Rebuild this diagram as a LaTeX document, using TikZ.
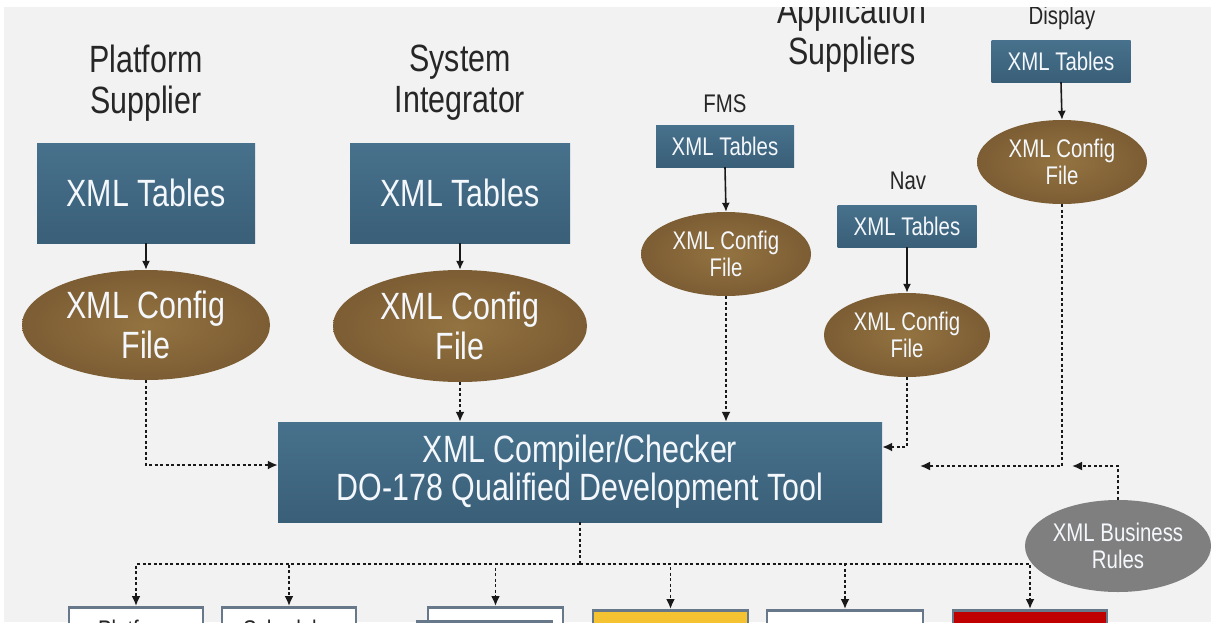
\documentclass[tikz,border=0pt]{standalone}
\usepackage{fontspec}
\setmainfont{Liberation Sans}[FakeStretch=0.8]
\usetikzlibrary{arrows.meta,shapes.geometric,calc}
\definecolor{bgc}{HTML}{F2F2F2}
\definecolor{tblueA}{HTML}{47718C}
\definecolor{tblueB}{HTML}{3A5F78}
\definecolor{brnA}{HTML}{937340}
\definecolor{brnB}{HTML}{7C5D34}
\definecolor{grayel}{HTML}{7F7F7F}
\definecolor{headc}{HTML}{262626}
\definecolor{bbord}{HTML}{66788A}
\definecolor{yelc}{HTML}{F5C232}
\definecolor{redc}{HTML}{C00000}
\definecolor{txtw}{HTML}{F4F8FC}
\begin{document}
\begin{tikzpicture}[x=1pt,y=-1pt,
  bigf/.style={font=\fontsize{38}{40}\selectfont},
  smallf/.style={font=\fontsize{25.5}{27}\selectfont},
  head/.style={text=headc, align=center, inner sep=0pt},
  tbl/.style 2 args={rectangle, top color=tblueA, bottom color=tblueB, text=txtw, inner sep=0pt, minimum width=#1, minimum height=#2, align=center},
  cfg/.style 2 args={ellipse, inner color=brnA, outer color=brnB, text=txtw, inner sep=0pt, minimum width=#1, minimum height=#2, align=center},
  solidarrow/.style={draw=black!90, line width=1.6pt, -{Latex[length=9pt,width=8pt]}},
  dasharrow/.style={draw=black!90, line width=1.9pt, dash pattern=on 3pt off 2.5pt, -{Latex[length=10pt,width=9pt]}},
  dashline/.style={draw=black!90, line width=1.9pt, dash pattern=on 3pt off 2.5pt},
  lowbox/.style 2 args={rectangle, draw=bbord, line width=2.5pt, fill=#2, minimum width=#1, minimum height=40pt, inner sep=0pt, anchor=north}
]
\useasboundingbox (0,0) rectangle (1211,622);
\fill[white] (0,0) rectangle (1211,622);
\begin{scope}
\clip (4,7) rectangle (1211,622);
\fill[bgc] (4,7) rectangle (1211,622);

% headings
\node[head, bigf, font=\fontsize{38}{41}\selectfont] (hplat) at (146,83) {Platform\\Supplier};
\node[head, bigf, font=\fontsize{38}{41}\selectfont] (hsys) at (460,83) {System\\Integrator};
\node[head, bigf, font=\fontsize{38}{41}\selectfont] (happ) at (852,34) {Application\\Suppliers};
\node[head, smallf] (hdisp) at (1062,18) {Display};
\node[head, smallf] (hfms) at (725,104) {FMS};
\node[head, smallf] (hnav) at (908,181) {Nav};

% tables
\node[tbl={218pt}{100pt}, bigf] (pt) at (146,193) {XML Tables};
\node[tbl={220pt}{100pt}, bigf] (st) at (460,193) {XML Tables};
\node[tbl={138pt}{42pt}, smallf] (ft) at (725,146) {XML Tables};
\node[tbl={139pt}{42pt}, smallf] (nt) at (907,226) {XML Tables};
\node[tbl={139pt}{42pt}, smallf] (dt) at (1061,61) {XML Tables};

% config ellipses
\node[cfg={248pt}{110pt}, bigf] (pe) at (146,325) {XML Config\\File};
\node[cfg={254pt}{112pt}, bigf] (se) at (460,326) {XML Config\\File};
\node[cfg={170pt}{84pt}, smallf] (fe) at (726,254) {XML Config\\File};
\node[cfg={166pt}{84pt}, smallf] (ne) at (907,335) {XML Config\\File};
\node[cfg={170pt}{84pt}, smallf] (de) at (1062,162) {XML Config\\File};

% main box
\node[tbl={604pt}{100pt}, bigf, font=\fontsize{38}{38}\selectfont] (mb) at (580,472) {XML Compiler/Checker\\DO-178 Qualified Development Tool};

% table -> config
\draw[solidarrow] (pt.south) -- (pe.north);
\draw[solidarrow] (st.south) -- (se.north);
\draw[solidarrow] (ft.south) -- (fe.north);
\draw[solidarrow] (nt.south) -- (ne.north);
\draw[solidarrow] (dt.south) -- (de.north);

% config -> main box
\draw[dasharrow] (pe.south) |- ([yshift=7pt]mb.west);
\draw[dasharrow] (se.south) -- (se.south |- mb.north);
\draw[dasharrow] (fe.south) -- (fe.south |- mb.north);
\draw[dasharrow] (ne.south) |- ([yshift=25pt]mb.east);
\coordinate (dtip) at (920,466);
\draw[dasharrow] (de.south) |- (dtip);

% bottom boxes
\node[lowbox={134pt}{white}] (b1) at (136,606) {};
\node[lowbox={134pt}{white}] (b2) at (289,606) {};
\node[lowbox={135pt}{white}] (b3) at (495.5,606) {};
\node[lowbox={135pt}{white}] (b3b) at (484.5,620) {};
\node[lowbox={155pt}{yelc}] (b4) at (670.5,609) {};
\node[lowbox={156pt}{white}] (b5) at (845,609) {};
\node[lowbox={154pt}{redc}] (b6) at (1030,609) {};
\node[anchor=north, inner sep=0pt, text=headc, smallf] (t1) at (136,619.5) {Platform};
\node[anchor=north, inner sep=0pt, text=headc, smallf] (t2) at (289,619.5) {Scheduler};

% distribution
\coordinate (bus) at (580,564);
\draw[dashline] (mb.south) -- (bus);
\foreach \b in {b1,b2,b3,b4,b5,b6}{
  \draw[dasharrow] (bus) -| (\b.north);
}

% business rules
\node[ellipse, fill=grayel, text=txtw, inner sep=0pt, minimum width=186pt, minimum height=92pt, align=center, smallf] (br) at (1118,546) {XML Business\\Rules};
\coordinate (btip) at (1072,466);
\draw[dasharrow] (br.north) |- (btip);
\end{scope}
\end{tikzpicture}
\end{document}
